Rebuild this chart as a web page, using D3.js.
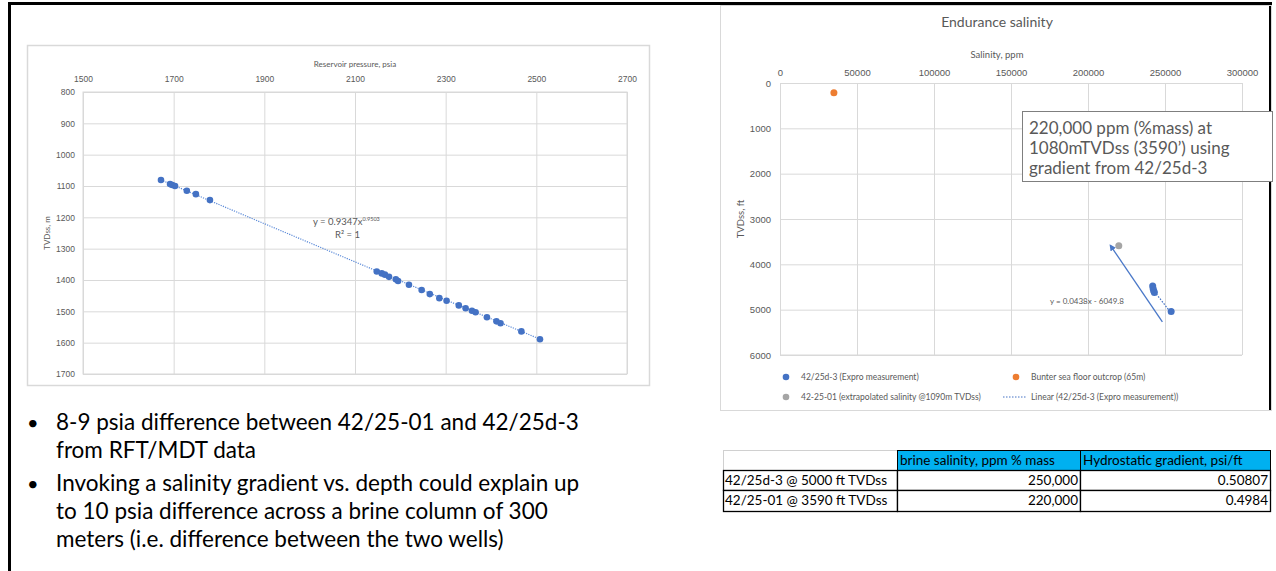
<!DOCTYPE html>
<html>
<head>
<meta charset="utf-8">
<script src="https://cdn.jsdelivr.net/npm/d3@7"></script>
<style>
  body { margin: 0; background: #fff; }
  svg { display: block; font-family: Lato, "Open Sans", sans-serif; }
</style>
</head>
<body>
<svg id="slide" width="1276" height="571"></svg>
<script>
// left chart: RFT/MDT pressures vs depth
const pressurePsia = [1672, 1692, 1697, 1703, 1729, 1749, 1780,
  2148, 2159, 2166, 2175, 2190, 2195, 2219, 2247, 2265, 2286, 2302,
  2329, 2344, 2358, 2366, 2391, 2412, 2421, 2467, 2508];
const depthM = [1081, 1094, 1097, 1100, 1115, 1126, 1145,
  1373, 1379, 1383, 1390, 1398, 1403, 1415, 1432, 1445, 1458, 1466,
  1481, 1490, 1498, 1503, 1519, 1532, 1538, 1564, 1589];
const pressureTicks = [1500, 1700, 1900, 2100, 2300, 2500, 2700];
const depthMTicks = [800, 900, 1000, 1100, 1200, 1300, 1400, 1500, 1600, 1700];
const powerFit = { a: 0.9347, b: 0.9503 };

// right chart: salinity vs depth
const expro = { sal: [242000, 242300, 242700, 243100, 254000], depth: [4480, 4540, 4590, 4620, 5040] };
const seaFloor = { sal: [35000], depth: [213] };
const extrapolated = { sal: [220000], depth: [3590] };
const linearFit = { m: 0.0438, c: -6049.8 };
const arrowFrom = [248300, 5270], arrowTo = [214500, 3580];
const salinityTicks = [0, 50000, 100000, 150000, 200000, 250000, 300000];
const depthFtTicks = [0, 1000, 2000, 3000, 4000, 5000, 6000];
const noteLines = ["220,000 ppm (%mass) at", "1080mTVDss (3590\u2019) using", "gradient from 42/25d-3"];

// table
const tableHeader = ["", "brine salinity, ppm % mass", "Hydrostatic gradient, psi/ft"];
const tableRows = [
  ["42/25d-3 @ 5000 ft TVDss", "250,000", "0.50807"],
  ["42/25-01 @ 3590 ft TVDss", "220,000", "0.4984"]
];

const bullets = [
  ["8-9 psia difference between 42/25-01 and 42/25d-3", "from RFT/MDT data"],
  ["Invoking a salinity gradient vs. depth could explain up", "to 10 psia difference across a brine column of 300",
   "meters (i.e. difference between the two wells)"]
];

const svg = d3.select("#slide");
const grey = "#595959", grid = "#d9d9d9", blue = "#4472c4";
const plain = d3.format("d");

// slide frame
svg.append("path").attr("d", "M9.5,571 V3.5 H1270.5 V410")
  .attr("fill", "none").attr("stroke", "#000").attr("stroke-width", 3);

// ---------- left chart ----------
svg.append("rect").attr("x", 27.5).attr("y", 45.5).attr("width", 622).attr("height", 340)
  .attr("fill", "#fff").attr("stroke", grid).attr("stroke-width", 1.5);

const x1 = d3.scaleLinear().domain([1500, 2700]).range([83, 627]);
const y1 = d3.scaleLinear().domain([800, 1700]).range([92, 374]);
const left = svg.append("g");

left.append("g").attr("transform", "translate(0,92)")
  .call(d3.axisTop(x1).tickValues(pressureTicks).tickFormat(plain).tickSize(-282).tickPadding(10))
  .call(g => g.select(".domain").remove());
left.append("g").attr("transform", "translate(83,0)")
  .call(d3.axisLeft(y1).tickValues(depthMTicks).tickFormat(plain).tickSize(-544).tickPadding(8))
  .call(g => g.select(".domain").remove());
left.selectAll(".tick line").attr("stroke", grid);
left.selectAll(".tick text").attr("fill", grey).style("font-size", "8.5px");
left.append("rect").attr("x", 83).attr("y", 92).attr("width", 544).attr("height", 282)
  .attr("fill", "none").attr("stroke", grid);

left.append("text").attr("x", 355).attr("y", 67).attr("text-anchor", "middle")
  .attr("fill", grey).style("font-size", "8px").text("Reservoir pressure, psia");
left.append("text").attr("transform", "translate(50,233) rotate(-90)").attr("text-anchor", "middle")
  .attr("fill", grey).style("font-size", "8px").text("TVDss, m");

const pExt = d3.extent(pressurePsia);
const fitPts = d3.range(0, 41).map(i => {
  const p = pExt[0] + (pExt[1] - pExt[0]) * i / 40;
  return [x1(p), y1(powerFit.a * Math.pow(p, powerFit.b))];
});
left.append("path").attr("d", d3.line()(fitPts)).attr("fill", "none")
  .attr("stroke", "#5b8ad8").attr("stroke-width", 1.2).attr("stroke-dasharray", "1.2,1.2");

left.selectAll("circle").data(pressurePsia).join("circle")
  .attr("cx", d => x1(d)).attr("cy", (d, i) => y1(depthM[i])).attr("r", 3.3).attr("fill", blue);

const eq = left.append("text").attr("x", 313).attr("y", 225).attr("fill", grey).style("font-size", "9.5px");
eq.append("tspan").text("y = 0.9347x");
eq.append("tspan").attr("dy", -4).style("font-size", "5.5px").text(powerFit.b);
left.append("text").attr("x", 335).attr("y", 238).attr("fill", grey).style("font-size", "9.5px")
  .text("R\u00b2 = 1");

// ---------- right chart ----------
svg.append("rect").attr("x", 720.5).attr("y", 5.5).attr("width", 551).attr("height", 405)
  .attr("fill", "none").attr("stroke", grid);

const x2 = d3.scaleLinear().domain([0, 300000]).range([780, 1242]);
const y2 = d3.scaleLinear().domain([0, 6000]).range([83, 355]);
const right = svg.append("g");

right.append("text").attr("x", 997).attr("y", 27).attr("text-anchor", "middle")
  .attr("fill", grey).style("font-size", "14px").text("Endurance salinity");
right.append("text").attr("x", 997).attr("y", 58).attr("text-anchor", "middle")
  .attr("fill", grey).style("font-size", "9.5px").text("Salinity, ppm");
right.append("text").attr("transform", "translate(744,219) rotate(-90)").attr("text-anchor", "middle")
  .attr("fill", grey).style("font-size", "9.5px").text("TVDss, ft");

right.append("g").attr("transform", "translate(0,83)")
  .call(d3.axisTop(x2).tickValues(salinityTicks).tickFormat(plain).tickSize(-272).tickPadding(7))
  .call(g => g.select(".domain").remove());
right.append("g").attr("transform", "translate(780,0)")
  .call(d3.axisLeft(y2).tickValues(depthFtTicks).tickFormat(plain).tickSize(-462).tickPadding(9))
  .call(g => g.select(".domain").remove());
right.selectAll(".tick line").attr("stroke", grid);
right.selectAll(".tick text").attr("fill", grey).style("font-size", "9.5px");
right.append("line").attr("x1", 780).attr("x2", 1242).attr("y1", 355).attr("y2", 355).attr("stroke", grid);

// text box
right.append("rect").attr("x", 1022.5).attr("y", 111.5).attr("width", 250).attr("height", 70)
  .attr("fill", "#fff").attr("stroke", "#7f7f7f");
right.selectAll("text.note").data(noteLines).join("text").attr("class", "note")
  .attr("x", 1029).attr("y", (d, i) => 134 + i * 20).attr("fill", grey)
  .style("font-size", "17px").text(d => d);

// arrow
svg.append("defs").append("marker").attr("id", "arrowHead").attr("viewBox", "0 0 10 10")
  .attr("refX", 8).attr("refY", 5).attr("markerWidth", 5).attr("markerHeight", 5).attr("orient", "auto")
  .append("path").attr("d", "M0,0 L10,5 L0,10 z").attr("fill", "#4a78c8");
right.append("line").attr("x1", x2(arrowFrom[0])).attr("y1", y2(arrowFrom[1]))
  .attr("x2", x2(arrowTo[0])).attr("y2", y2(arrowTo[1]))
  .attr("stroke", "#4a78c8").attr("stroke-width", 1.3).attr("marker-end", "url(#arrowHead)");

// linear trendline
const sExt = d3.extent(expro.sal);
right.append("line").attr("x1", x2(sExt[0])).attr("y1", y2(linearFit.m * sExt[0] + linearFit.c))
  .attr("x2", x2(sExt[1])).attr("y2", y2(linearFit.m * sExt[1] + linearFit.c))
  .attr("stroke", blue).attr("stroke-width", 1.2).attr("stroke-dasharray", "1.5,1.5");
right.append("text").attr("x", 1050).attr("y", 304).attr("fill", grey).style("font-size", "8px")
  .text("y = 0.0438x - 6049.8");

function dots(series, color) {
  right.append("g").selectAll("circle").data(series.sal).join("circle")
    .attr("cx", d => x2(d)).attr("cy", (d, i) => y2(series.depth[i])).attr("r", 3.5).attr("fill", color);
}
dots(extrapolated, "#a5a5a5");
dots(seaFloor, "#ed7d31");
dots(expro, blue);

// legend
const legend = [
  { label: "42/25d-3 (Expro measurement)", color: blue, x: 786, y: 377, kind: "dot" },
  { label: "Bunter sea floor outcrop (65m)", color: "#ed7d31", x: 1016, y: 377, kind: "dot" },
  { label: "42-25-01 (extrapolated salinity @1090m TVDss)", color: "#a5a5a5", x: 786, y: 397, kind: "dot" },
  { label: "Linear (42/25d-3 (Expro measurement))", color: blue, x: 1015, y: 397, kind: "line" }
];
legend.forEach(l => {
  if (l.kind === "dot") {
    right.append("circle").attr("cx", l.x).attr("cy", l.y).attr("r", 3.3).attr("fill", l.color);
  } else {
    right.append("line").attr("x1", l.x - 12).attr("x2", l.x + 12).attr("y1", l.y).attr("y2", l.y)
      .attr("stroke", l.color).attr("stroke-dasharray", "1.5,1.5");
  }
  right.append("text").attr("x", l.x + (l.kind === "dot" ? 15 : 16)).attr("y", l.y + 3)
    .attr("fill", grey).style("font-size", "8.5px").text(l.label);
});

// ---------- table ----------
const colX = [723, 897, 1080, 1270];
const rowY = [450, 470, 490, 511];
const table = svg.append("g").style("font-size", "13.5px");
tableHeader.forEach((h, c) => {
  table.append("rect").attr("x", colX[c] + 0.5).attr("y", rowY[0] + 0.5)
    .attr("width", colX[c + 1] - colX[c]).attr("height", rowY[1] - rowY[0])
    .attr("fill", c === 0 ? "#fff" : "#00b0f0").attr("stroke", c === 0 ? "#d0d0d0" : "#000");
  table.append("text").attr("x", colX[c] + 3).attr("y", rowY[0] + 15).attr("fill", "#000").text(h);
});
tableRows.forEach((row, r) => {
  row.forEach((v, c) => {
    table.append("rect").attr("x", colX[c] + 0.5).attr("y", rowY[r + 1] + 0.5)
      .attr("width", colX[c + 1] - colX[c]).attr("height", rowY[r + 2] - rowY[r + 1])
      .attr("fill", "#fff").attr("stroke", "#000").attr("stroke-width", 1.3);
    table.append("text").attr("x", c === 0 ? colX[c] + 2 : colX[c + 1] - 2).attr("y", rowY[r + 1] + 15)
      .attr("text-anchor", c === 0 ? "start" : "end").attr("fill", "#000").text(v);
  });
});

// ---------- bullets ----------
let lineY = 430;
bullets.forEach(b => {
  svg.append("text").attr("x", 27).attr("y", lineY).style("font-size", "20px").attr("fill", "#000").text("\u2022");
  b.forEach(t => {
    svg.append("text").attr("x", 56).attr("y", lineY).style("font-size", "22.5px").attr("fill", "#000").text(t);
    lineY += 28;
  });
  lineY += 5;
});
</script>
</body>
</html>
